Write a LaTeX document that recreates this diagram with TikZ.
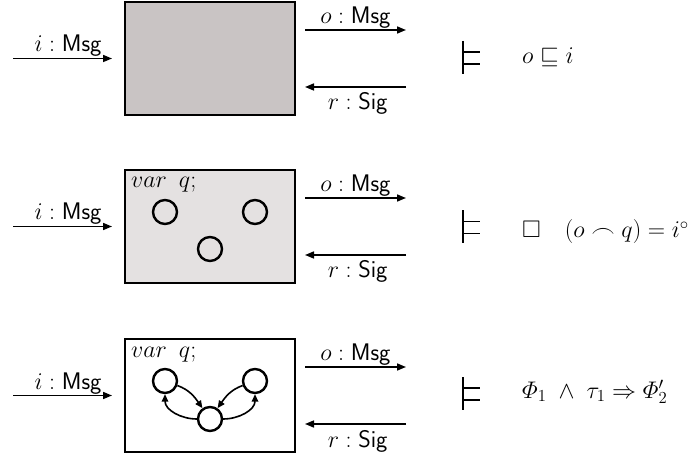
\RequirePackage{fix-cm}
\documentclass[tikz,border=0pt]{standalone}
\usepackage{amsmath,amssymb}
\usetikzlibrary{arrows.meta}
\tikzset{
  lbl/.style={inner sep=0pt, font=\fontsize{24}{29}\selectfont},
  frm/.style={inner sep=0pt, font=\fontsize{24}{29}\selectfont},
  comp/.style={draw, line width=2pt, minimum width=170pt, minimum height=113pt, inner sep=0pt},
  chan/.style={line width=1.6pt, -{Triangle[length=9pt,width=7pt]}},
  st/.style={circle, draw, line width=2.4pt, minimum size=24pt, inner sep=0pt},
  tr/.style={line width=1.6pt, -{Triangle[length=7.5pt,width=6.5pt]}},
  ent/.style={line width=1.8pt}
}
\definecolor{boxdark}{RGB}{201,196,196}
\definecolor{boxlight}{RGB}{228,225,225}
\begin{document}
\begin{tikzpicture}[x=1pt,y=-1pt]
\useasboundingbox (0,0) rectangle (694,457);
% rows
\foreach \n/\cy/\col in {1/58.5/boxdark, 2/226.5/boxlight, 3/395.5/white}{
  \node[comp, fill=\col] (b\n) at (210,\cy) {};
  \coordinate (is\n) at (13,\cy);
  \coordinate (os\n) at (305,\cy-28.5);
  \coordinate (oe\n) at (406,\cy-28.5);
  \coordinate (rs\n) at (406,\cy+28.5);
  \coordinate (re\n) at (305,\cy+28.5);
  \draw[chan, shorten >=12pt] (is\n) -- (b\n.west |- is\n);
  \draw[chan] (os\n) -- (oe\n);
  \draw[chan] (rs\n) -- (re\n);
  \node[lbl, anchor=base east] (il\n) at (102,\cy-6.5) {$i:\mathsf{Msg}$};
  \node[lbl, anchor=base east] (ol\n) at (391,\cy-35) {$o:\mathsf{Msg}$};
  \node[lbl, anchor=base east] (rl\n) at (388,\cy+51.5) {$r:\mathsf{Sig}$};
}
% var q
\node[lbl, anchor=base west] (v2) at (131,188) {$var\enskip q;$};
\node[lbl, anchor=base west] (v3) at (131,357) {$var\enskip q;$};
% states box 2
\node[st] (a2) at (165,212) {};
\node[st] (c2) at (255,212) {};
\node[st] (d2) at (210,249) {};
% states box 3
\node[st] (a3) at (165,381) {};
\node[st] (c3) at (255,381) {};
\node[st] (d3) at (210,419) {};
\draw[tr] (a3) to[out=-20,in=125] (d3);
\draw[tr] (c3) to[out=200,in=55] (d3);
\draw[tr] (d3) to[out=180,in=-90] (a3);
\draw[tr] (d3) to[out=0,in=-90] (c3);
% entailment symbols
\foreach \cy in {57.5,227,393.5}{
  \draw[ent] (463,\cy-16.5) -- (463,\cy+16.5);
  \draw[ent] (462,\cy-5.5) -- (480,\cy-5.5);
  \draw[ent] (462,\cy+6.5) -- (480,\cy+6.5);
}
\node[frm, anchor=base west] (f1) at (522,64) {$o \sqsubseteq i$};
\node[frm, anchor=base west] (f2) at (522,238) {$\Box\quad(o\frown q)=i^{\circ}$};
\node[frm, anchor=base west] (f3) at (522,398) {$\varPhi_1\;\wedge\;\tau_1\Rightarrow\varPhi'_2$};
\end{tikzpicture}
\end{document}
